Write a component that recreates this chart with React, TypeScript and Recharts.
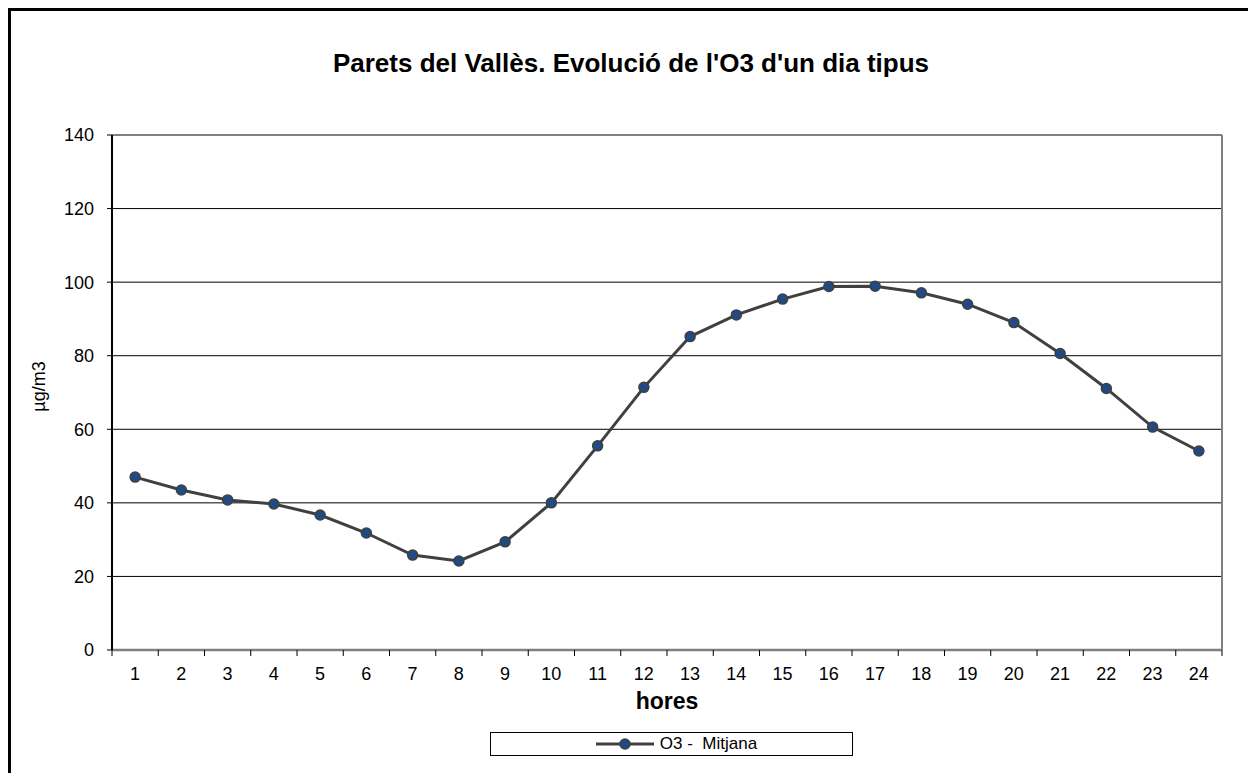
import React from 'react';
import {
  LineChart, Line, XAxis, YAxis, CartesianGrid, ReferenceLine, Legend,
} from 'recharts';

// hours of the day and the mean O3 value for each one
const hours = [1, 2, 3, 4, 5, 6, 7, 8, 9, 10, 11, 12, 13, 14, 15, 16, 17, 18, 19, 20, 21, 22, 23, 24];
const o3Mitjana = [
  47.0, 43.5, 40.8, 39.7, 36.7, 31.8, 25.8, 24.2, 29.4, 40.0, 55.5, 71.4,
  85.2, 91.1, 95.4, 98.8, 98.9, 97.1, 94.0, 89.0, 80.6, 71.1, 60.6, 54.1,
];
const yTicks = [0, 20, 40, 60, 80, 100, 120, 140];

const FONT = '"Liberation Sans", Arial, sans-serif';

const data = hours.map((h, i) => ({ hour: h, o3: o3Mitjana[i] }));

// labels sit on the hours, tick marks sit between them (Excel style)
const xTicks = [hours[0] - 0.5, ...hours.flatMap((h) => [h, h + 0.5])];

const HourTick = (props: any) => {
  const { x, y, payload } = props;
  if (Number.isInteger(payload.value)) {
    return (
      <text x={x} y={y + 30} textAnchor="middle" fontSize={18} fontFamily={FONT} fill="#000">
        {payload.value}
      </text>
    );
  }
  return <line x1={x} x2={x} y1={y} y2={y + 6} stroke="#000" strokeWidth={1} />;
};

const LegendBox = ({ payload }: any) => (
  <div
    style={{
      border: '1px solid #000',
      height: 24,
      boxSizing: 'border-box',
      display: 'flex',
      alignItems: 'center',
      justifyContent: 'center',
      fontFamily: FONT,
      fontSize: 17,
      background: '#fff',
    }}
  >
    {(payload || []).map((p: any) => (
      <span key={p.value} style={{ display: 'flex', alignItems: 'center', marginLeft: 10 }}>
        <svg width={58} height={12}>
          <line x1={0} x2={58} y1={6} y2={6} stroke="#404040" strokeWidth={3} />
          <circle cx={29} cy={6} r={5} fill="#1F4A86" stroke="#404040" strokeWidth={1.5} />
        </svg>
        <span style={{ marginLeft: 6, whiteSpace: 'pre' }}>{p.value}</span>
      </span>
    ))}
  </div>
);

export default function App() {
  return (
    <div
      style={{
        position: 'relative',
        marginLeft: -1,
        marginTop: -1,
        width: 1248,
        height: 790,
        border: '4px solid #000',
        boxSizing: 'border-box',
        background: '#fff',
      }}
    >
      <style>{'body{overflow:hidden}'}</style>
      <div
        style={{
          position: 'absolute',
          top: 37,
          left: 0,
          width: 1240,
          textAlign: 'center',
          fontFamily: FONT,
          fontWeight: 'bold',
          fontSize: 26,
          lineHeight: 'normal',
        }}
      >
        Parets del Vallès. Evolució de l'O3 d'un dia tipus
      </div>
      <LineChart
        width={1240}
        height={760}
        data={data}
        margin={{ top: 124, right: 29, bottom: 59, left: 23 }}
      >
        <CartesianGrid vertical={false} stroke="#000" strokeWidth={1} />
        <XAxis
          type="number"
          dataKey="hour"
          domain={[0.5, 24.5]}
          ticks={xTicks}
          interval={0}
          tick={<HourTick />}
          tickLine={false}
          tickSize={0}
          tickMargin={0}
          height={62}
          axisLine={{ stroke: '#808080', strokeWidth: 2.5 }}
          label={{
            value: 'hores',
            position: 'insideBottom',
            offset: 3,
            style: { fontFamily: FONT, fontSize: 23, fontWeight: 'bold', fill: '#000' },
          }}
        />
        <YAxis
          domain={[0, 140]}
          ticks={yTicks}
          interval={0}
          width={78}
          tickSize={5}
          tickMargin={13}
          tick={{ fill: '#000', fontSize: 18, fontFamily: FONT }}
          tickLine={{ stroke: '#000' }}
          axisLine={{ stroke: '#000', strokeWidth: 2 }}
          label={{
            value: 'µg/m3',
            angle: -90,
            position: 'insideLeft',
            offset: 5,
            dy: -6,
            style: { textAnchor: 'middle', fontFamily: FONT, fontSize: 18, fill: '#000' },
          }}
        />
        <ReferenceLine y={140} stroke="#808080" strokeWidth={2} />
        <ReferenceLine x={24.5} stroke="#808080" strokeWidth={2} />
        <Legend
          verticalAlign="middle"
          align="center"
          content={<LegendBox />}
          wrapperStyle={{ top: 721, left: 479, width: 363, height: 24 }}
        />
        <Line
          type="linear"
          dataKey="o3"
          name="O3 -  Mitjana"
          stroke="#404040"
          strokeWidth={3}
          dot={{ r: 5, fill: '#1F4A86', stroke: '#404040', strokeWidth: 1.5 }}
          activeDot={false}
          isAnimationActive={false}
        />
      </LineChart>
    </div>
  );
}
